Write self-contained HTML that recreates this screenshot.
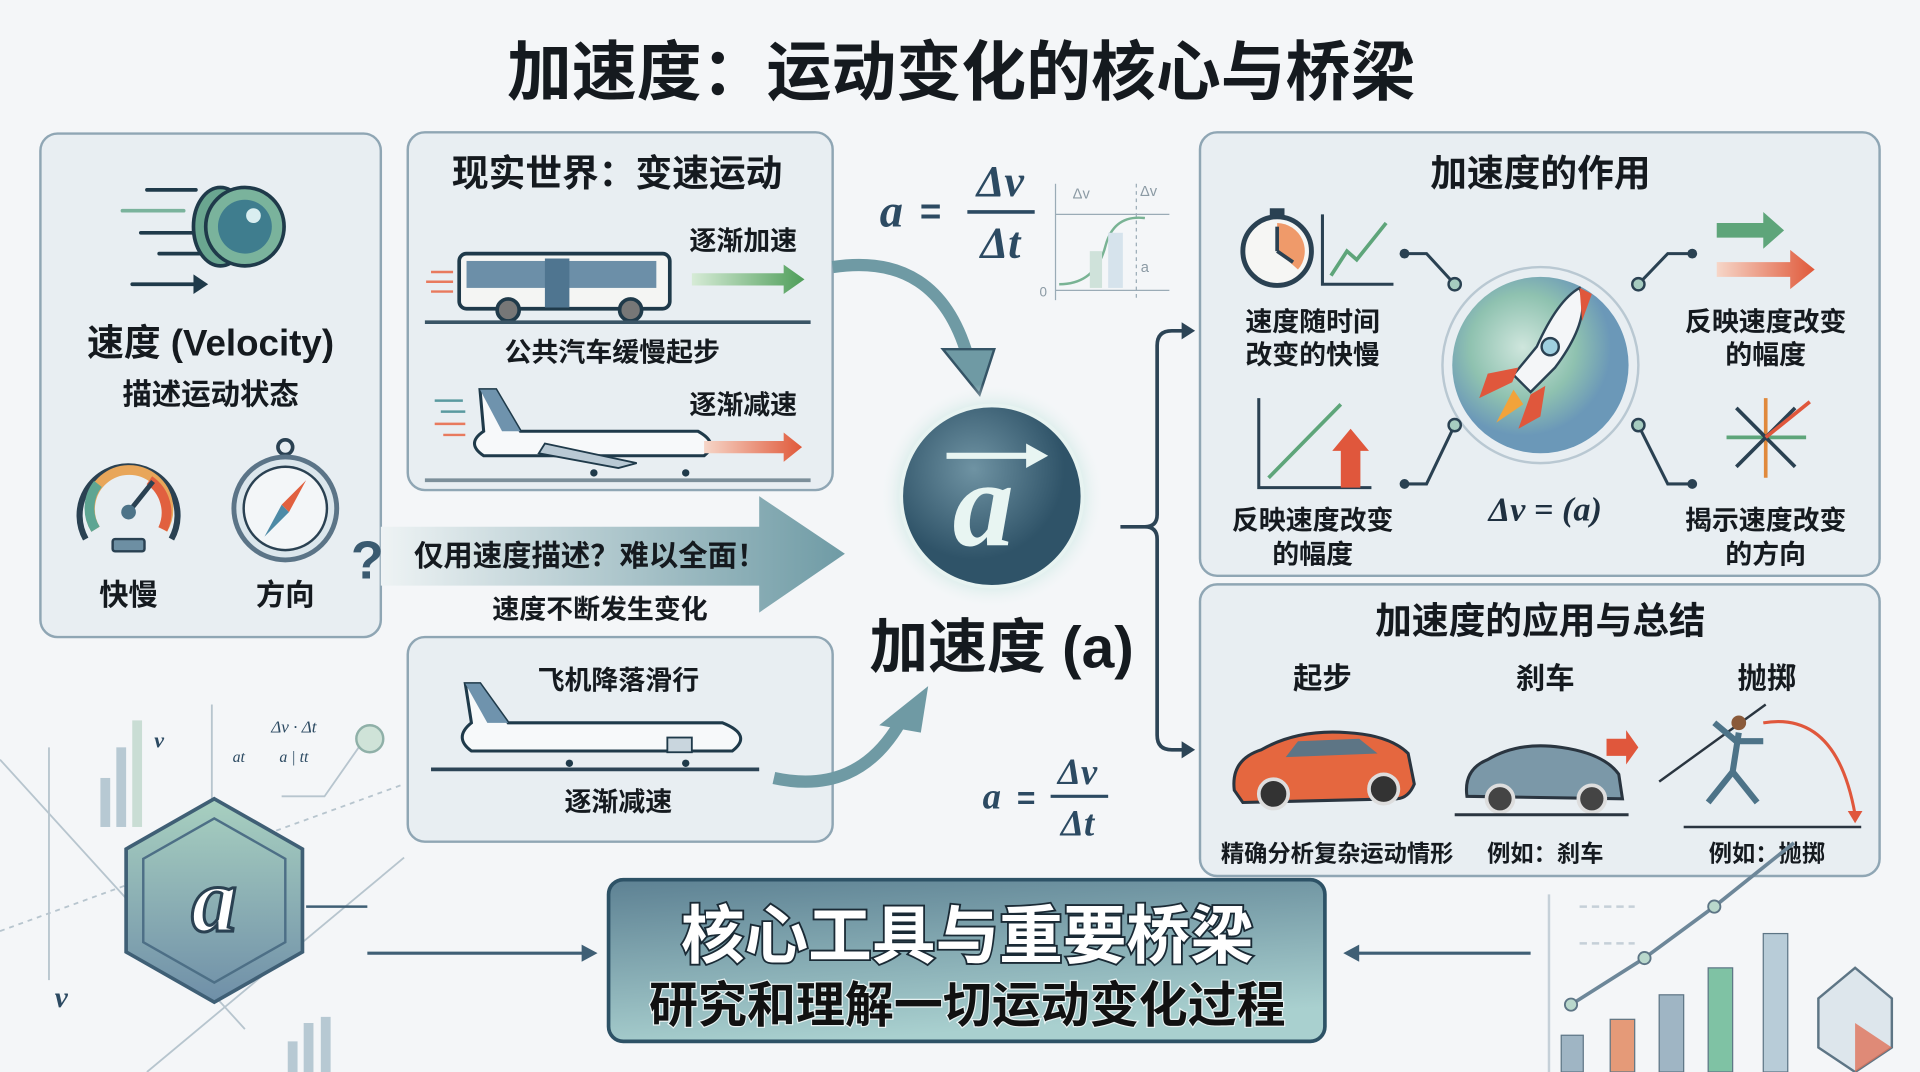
<!DOCTYPE html>
<html><head><meta charset="utf-8"><style>
html,body{margin:0;padding:0;background:#f4f6f8;}
svg{display:block}
text{font-family:"Liberation Sans","Noto Sans CJK SC",sans-serif;font-weight:bold;fill:#151a1f;text-anchor:middle}
.m{font-family:"Liberation Serif","DejaVu Serif",serif;font-style:italic;fill:#2c4a62}
</style></head><body>
<svg width="1920" height="1072" viewBox="0 0 1568 875" preserveAspectRatio="none" xmlns="http://www.w3.org/2000/svg">
<defs>
<linearGradient id="ba" x1="0" x2="1"><stop offset="0" stop-color="#eef3f4"/><stop offset="1" stop-color="#6f9ba5"/></linearGradient>
<radialGradient id="glow"><stop offset="0.7" stop-color="#bfe3dc"/><stop offset="1" stop-color="#f4f6f8" stop-opacity="0"/></radialGradient>
<radialGradient id="ca" cx="0.4" cy="0.35"><stop offset="0" stop-color="#6f93a3"/><stop offset="1" stop-color="#2f5368"/></radialGradient>
<radialGradient id="rk" cx="0.4" cy="0.4"><stop offset="0" stop-color="#cfe6dd"/><stop offset="0.6" stop-color="#8fc2b0"/><stop offset="1" stop-color="#6b98b8"/></radialGradient>
<linearGradient id="bx" x1="0" y1="0" x2="0.3" y2="1"><stop offset="0" stop-color="#5d8193"/><stop offset="1" stop-color="#a9d0cf"/></linearGradient>
<linearGradient id="ga" x1="0" x2="1"><stop offset="0" stop-color="#d6ebd6"/><stop offset="1" stop-color="#4f9e5a"/></linearGradient>
<linearGradient id="ra" x1="0" x2="1"><stop offset="0" stop-color="#f6d6c8"/><stop offset="1" stop-color="#e0593a"/></linearGradient>
<linearGradient id="hx" x1="0" y1="0" x2="0" y2="1"><stop offset="0" stop-color="#a8d0c0"/><stop offset="1" stop-color="#6f8fa8"/></linearGradient>
</defs>
<rect width="1568" height="875" fill="#f4f6f8"/>
<text x="785" y="77" font-size="53">加速度：运动变化的核心与桥梁</text>

<!-- left panel -->
<rect x="33" y="109" width="278" height="411" rx="14" fill="#e8eef2" stroke="#8fa6b4" stroke-width="2"/>
<g stroke="#1f3a4a" stroke-width="3" stroke-linecap="round">
<line x1="120" y1="155" x2="160" y2="155"/><line x1="100" y1="172" x2="150" y2="172" stroke="#7ab39c"/><line x1="115" y1="190" x2="158" y2="190"/><line x1="130" y1="207" x2="165" y2="207"/>
<line x1="108" y1="232" x2="158" y2="232"/></g>
<polygon points="158,224 170,232 158,240" fill="#1f3a4a"/>
<ellipse cx="180" cy="185" rx="22" ry="32" fill="#6aa690" stroke="#1f3a4a" stroke-width="3"/>
<circle cx="200" cy="185" r="32" fill="#7ab39c" stroke="#1f3a4a" stroke-width="3"/>
<circle cx="200" cy="185" r="22" fill="#3f7d8e"/><circle cx="207" cy="176" r="6" fill="#d9eef0"/>
<text x="172" y="290" font-size="30">速度 (Velocity)</text>
<text x="172" y="330" font-size="24">描述运动状态</text>
<path d="M70,440 A40,40 0 1,1 140,440" fill="none" stroke="#2a4152" stroke-width="5"/>
<path d="M78,432 A32,32 0 1,1 133,432" fill="none" stroke="#e8a65a" stroke-width="8"/>
<path d="M78,432 A32,32 0 0,1 80,395" fill="none" stroke="#5ea592" stroke-width="8"/>
<path d="M122,392 A32,32 0 0,1 133,432" fill="none" stroke="#e1603f" stroke-width="8"/>
<line x1="105" y1="418" x2="125" y2="393" stroke="#2a4152" stroke-width="4"/><circle cx="105" cy="418" r="6" fill="#4d7388"/>
<rect x="92" y="440" width="26" height="10" rx="2" fill="#6d8fa3" stroke="#2a4152" stroke-width="2"/>
<circle cx="233" cy="365" r="6" fill="none" stroke="#2a4152" stroke-width="3"/>
<circle cx="233" cy="415" r="42" fill="#dbe6ec" stroke="#5b7487" stroke-width="4"/>
<circle cx="233" cy="415" r="34" fill="#f3f6f8" stroke="#2a4152" stroke-width="2"/>
<polygon points="250,392 236,418 230,412" fill="#e1603f"/><polygon points="216,438 230,412 236,418" fill="#4d8aa6"/>
<text x="105" y="494" font-size="24">快慢</text><text x="233" y="494" font-size="24">方向</text>

<!-- real world panel -->
<rect x="333" y="108" width="347" height="292" rx="14" fill="#e8eef2" stroke="#8fa6b4" stroke-width="2"/>
<text x="504" y="152" font-size="30">现实世界：变速运动</text>
<text x="607" y="204" font-size="22">逐渐加速</text>
<rect x="375" y="207" width="172" height="45" rx="6" fill="#f4f5f3" stroke="#1f3a4a" stroke-width="3"/>
<rect x="381" y="213" width="155" height="22" fill="#6c8fa8"/>
<rect x="445" y="211" width="20" height="40" fill="#4f7590"/>
<circle cx="415" cy="253" r="9" fill="#777" stroke="#1f3a4a" stroke-width="3"/><circle cx="515" cy="253" r="9" fill="#777" stroke="#1f3a4a" stroke-width="3"/>
<g stroke="#e87a5e" stroke-width="2"><line x1="352" y1="222" x2="370" y2="222"/><line x1="348" y1="230" x2="370" y2="230"/><line x1="352" y1="238" x2="370" y2="238"/></g>
<polygon points="565,223 640,223 640,216 657,228 640,240 640,233 565,233" fill="url(#ga)"/>
<line x1="347" y1="263" x2="662" y2="263" stroke="#3a5566" stroke-width="3"/>
<text x="500" y="295" font-size="22">公共汽车缓慢起步</text>
<text x="607" y="338" font-size="22">逐渐减速</text>
<path d="M392,318 L405,318 L425,352 L570,352 Q588,362 575,372 L395,372 Q380,362 395,352 Z" fill="#f7f9fa" stroke="#1f3a4a" stroke-width="2.5"/>
<polygon points="392,318 405,318 425,352 410,352" fill="#6f93ad"/>
<polygon points="445,362 520,378 505,382 440,370" fill="#b9c9d4" stroke="#1f3a4a" stroke-width="1.5"/>
<circle cx="485" cy="386" r="3" fill="#1f3a4a"/><circle cx="560" cy="386" r="3" fill="#1f3a4a"/>
<g stroke="#5a9aa0" stroke-width="2"><line x1="355" y1="327" x2="378" y2="327"/><line x1="360" y1="336" x2="380" y2="336"/></g>
<g stroke="#e87a5e" stroke-width="2"><line x1="355" y1="346" x2="380" y2="346"/><line x1="362" y1="355" x2="380" y2="355"/></g>
<polygon points="575,360 640,360 640,353 655,365 640,377 640,370 575,370" fill="url(#ra)"/>
<line x1="347" y1="392" x2="662" y2="392" stroke="#7c8f9a" stroke-width="3"/>

<!-- big arrow -->
<polygon points="311,430 620,430 620,405 690,452 620,500 620,478 311,478" fill="url(#ba)"/>
<text x="300" y="472" font-size="44" fill="#3a5a70" style="fill:#3a5a70">?</text>
<text x="482" y="462" font-size="24">仅用速度描述？难以全面！</text>
<text x="490" y="505" font-size="22">速度不断发生变化</text>

<!-- landing panel -->
<rect x="333" y="520" width="347" height="167" rx="14" fill="#e8eef2" stroke="#8fa6b4" stroke-width="2"/>
<text x="505" y="563" font-size="22">飞机降落滑行</text>
<path d="M380,558 L392,558 L415,590 L590,590 Q615,600 598,613 L385,613 Q370,602 385,590 Z" fill="#f7f9fa" stroke="#1f3a4a" stroke-width="2.5"/>
<polygon points="380,558 392,558 415,590 398,590" fill="#6f93ad"/>
<rect x="545" y="602" width="20" height="12" fill="#c9d6de" stroke="#1f3a4a" stroke-width="1.5"/>
<circle cx="465" cy="623" r="3" fill="#1f3a4a"/><circle cx="560" cy="623" r="3" fill="#1f3a4a"/>
<line x1="352" y1="628" x2="620" y2="628" stroke="#2c4456" stroke-width="3"/>
<text x="505" y="662" font-size="22">逐渐减速</text>

<!-- curved arrows -->
<path d="M680,218 Q765,205 790,290" fill="none" stroke="#6f9aa4" stroke-width="10"/>
<polygon points="770,285 812,285 800,322" fill="#6f9aa4" stroke="#355466" stroke-width="2"/>
<path d="M632,635 Q700,650 735,590" fill="none" stroke="#6f9aa4" stroke-width="10"/>
<polygon points="718,592 752,598 758,560" fill="#6f9aa4"/>

<!-- top formula -->
<text x="728" y="185" font-size="38" class="m">a</text><text x="760" y="183" font-size="30" style="fill:#2c4a62">=</text>
<text x="817" y="160" font-size="36" class="m">Δv</text>
<line x1="790" y1="173" x2="845" y2="173" stroke="#2c4a62" stroke-width="3"/>
<text x="817" y="210" font-size="36" class="m">Δt</text>
<g stroke="#9aabb6" stroke-width="1" fill="none">
<line x1="862" y1="175" x2="955" y2="175"/><line x1="862" y1="237" x2="955" y2="237"/><line x1="862" y1="150" x2="862" y2="245"/><line x1="928" y1="150" x2="928" y2="245" stroke-dasharray="3,3"/>
<path d="M865,232 Q895,232 903,200 Q910,175 935,178" stroke="#79b394" stroke-width="2"/></g>
<rect x="890" y="205" width="10" height="30" fill="#cfe2da"/><rect x="905" y="190" width="12" height="45" fill="#d6e3ec"/>
<text x="883" y="162" font-size="12" style="fill:#8b9aa4;font-weight:normal">Δv</text><text x="938" y="160" font-size="12" style="fill:#8b9aa4;font-weight:normal">Δv</text>
<text x="935" y="222" font-size="12" style="fill:#8b9aa4;font-weight:normal">a</text><text x="852" y="242" font-size="11" style="fill:#8b9aa4;font-weight:normal">0</text>

<!-- center -->
<circle cx="810" cy="405" r="92" fill="url(#glow)"/>
<circle cx="810" cy="405" r="74" fill="url(#ca)" stroke="#e7f3f1" stroke-width="3"/>
<text x="803" y="445" font-size="100" class="m" style="fill:#e8f5f2">a</text>
<line x1="773" y1="372" x2="845" y2="372" stroke="#e8f5f2" stroke-width="5"/>
<polygon points="838,362 856,372 838,382" fill="#e8f5f2"/>
<text x="818" y="545" font-size="48">加速度 (a)</text>

<!-- bottom formula -->
<text x="810" y="660" font-size="30" class="m">a</text><text x="838" y="660" font-size="26" style="fill:#2c4a62">=</text>
<text x="880" y="640" font-size="30" class="m">Δv</text>
<line x1="858" y1="650" x2="905" y2="650" stroke="#2c4a62" stroke-width="2.5"/>
<text x="880" y="682" font-size="30" class="m">Δt</text>

<!-- bracket -->
<path d="M915,430 L935,430 Q945,430 945,420 L945,282 Q945,270 957,270 L968,270 M945,440 L945,600 Q945,612 957,612 L968,612 M935,430 Q945,430 945,440" fill="none" stroke="#2c4456" stroke-width="3"/>
<polygon points="965,263 976,270 965,277" fill="#2c4456"/><polygon points="965,605 976,612 965,619" fill="#2c4456"/>

<!-- right top panel -->
<rect x="980" y="108" width="555" height="362" rx="14" fill="#e8eef2" stroke="#8fa6b4" stroke-width="2"/>
<text x="1258" y="152" font-size="30">加速度的作用</text>
<circle cx="1043" cy="205" r="28" fill="#f6f6f4" stroke="#2a4152" stroke-width="4"/>
<path d="M1043,205 L1043,182 A23,23 0 0,1 1060,220 Z" fill="#ef9a6a"/>
<line x1="1043" y1="205" x2="1043" y2="185" stroke="#2a4152" stroke-width="3"/><line x1="1043" y1="205" x2="1056" y2="214" stroke="#2a4152" stroke-width="3"/>
<rect x="1037" y="170" width="12" height="6" fill="#2a4152"/>
<path d="M1080,175 L1080,232 L1138,232" fill="none" stroke="#2a4152" stroke-width="2.5"/>
<polyline points="1087,225 1100,205 1108,212 1132,182" fill="none" stroke="#5ea57a" stroke-width="3"/>
<text x="1072" y="270" font-size="22">速度随时间</text><text x="1072" y="297" font-size="22">改变的快慢</text>
<circle cx="1258" cy="298" r="80" fill="none" stroke="#b9c8d2" stroke-width="2"/>
<circle cx="1258" cy="298" r="72" fill="url(#rk)"/>
<path d="M1290,235 Q1300,260 1270,300 L1250,320 L1236,306 L1255,283 Q1272,245 1290,235 Z" fill="#f4f6f8" stroke="#2a4152" stroke-width="2"/>
<polygon points="1290,235 1300,240 1292,262" fill="#e0573c"/>
<circle cx="1266" cy="283" r="7" fill="#9fd0e0" stroke="#2a4152" stroke-width="2"/>
<polygon points="1240,300 1215,305 1208,325 1235,312" fill="#e0573c"/><polygon points="1262,315 1258,340 1240,350 1250,322" fill="#e0573c"/>
<polygon points="1236,318 1222,345 1244,330" fill="#f2a33a"/>
<g stroke="#2a4152" stroke-width="2.5" fill="none"><polyline points="1147,207 1165,207 1188,232"/><polyline points="1147,395 1165,395 1188,347"/><polyline points="1382,207 1362,207 1338,232"/><polyline points="1382,395 1362,395 1338,347"/></g>
<g fill="#2a4152"><circle cx="1147" cy="207" r="4"/><circle cx="1147" cy="395" r="4"/><circle cx="1382" cy="207" r="4"/><circle cx="1382" cy="395" r="4"/></g>
<g fill="#a6ccc0" stroke="#2a4152" stroke-width="2"><circle cx="1188" cy="232" r="5"/><circle cx="1188" cy="347" r="5"/><circle cx="1338" cy="232" r="5"/><circle cx="1338" cy="347" r="5"/></g>
<polygon points="1402,182 1440,182 1440,173 1457,188 1440,203 1440,194 1402,194" fill="#5ea57a"/>
<polygon points="1402,214 1462,214 1462,204 1482,220 1462,236 1462,226 1402,226" fill="url(#ra)"/>
<text x="1442" y="270" font-size="22">反映速度改变</text><text x="1442" y="297" font-size="22">的幅度</text>
<path d="M1028,325 L1028,398 L1120,398" fill="none" stroke="#2a4152" stroke-width="2.5"/>
<line x1="1036" y1="390" x2="1095" y2="330" stroke="#5ea57a" stroke-width="3"/>
<polygon points="1095,398 1095,368 1088,368 1103,350 1118,368 1111,368 1111,398" fill="#e0573c"/>
<text x="1072" y="432" font-size="22">反映速度改变</text><text x="1072" y="460" font-size="22">的幅度</text>
<text x="1262" y="425" font-size="28" class="m" style="fill:#1f3040">Δv = (a)</text>
<g stroke-width="3" stroke="#2a4152"><line x1="1442" y1="325" x2="1442" y2="390" stroke="#e0893c"/><line x1="1410" y1="357" x2="1475" y2="357" stroke="#5ea57a"/><line x1="1418" y1="333" x2="1466" y2="381"/><line x1="1466" y1="333" x2="1418" y2="381"/><line x1="1442" y1="357" x2="1478" y2="328" stroke="#e0573c"/></g>
<text x="1442" y="432" font-size="22">揭示速度改变</text><text x="1442" y="460" font-size="22">的方向</text>

<!-- right bottom panel -->
<rect x="980" y="477" width="555" height="238" rx="14" fill="#e8eef2" stroke="#8fa6b4" stroke-width="2"/>
<text x="1258" y="517" font-size="30">加速度的应用与总结</text>
<text x="1080" y="562" font-size="24">起步</text><text x="1262" y="562" font-size="24">刹车</text><text x="1443" y="562" font-size="24">抛掷</text>
<path d="M1008,645 Q1005,620 1030,612 Q1060,595 1100,598 Q1135,600 1150,615 L1155,640 Q1150,652 1140,652 L1015,655 Z" fill="#e5673f" stroke="#2a3540" stroke-width="2.5"/>
<circle cx="1040" cy="648" r="12" fill="#333" stroke="#ddd" stroke-width="3"/><circle cx="1130" cy="644" r="12" fill="#333" stroke="#ddd" stroke-width="3"/>
<path d="M1060,605 L1110,603 L1125,615 L1050,618 Z" fill="#5d7585"/>
<path d="M1198,650 Q1195,628 1215,620 Q1240,605 1275,610 Q1310,615 1322,632 L1325,652 Z" fill="#7b98a8" stroke="#2a3540" stroke-width="2.5"/>
<circle cx="1225" cy="652" r="11" fill="#444" stroke="#ddd" stroke-width="3"/><circle cx="1300" cy="652" r="11" fill="#444" stroke="#ddd" stroke-width="3"/>
<line x1="1188" y1="665" x2="1330" y2="665" stroke="#2a3540" stroke-width="2.5"/>
<polygon points="1312,603 1328,603 1328,596 1338,610 1328,624 1328,617 1312,617" fill="#e0573c"/>
<line x1="1355" y1="638" x2="1442" y2="575" stroke="#2a3540" stroke-width="2"/>
<path d="M1440,590 Q1500,580 1515,665" fill="none" stroke="#e0573c" stroke-width="2.5"/><polygon points="1509,662 1521,662 1515,672" fill="#e0573c"/>
<circle cx="1420" cy="590" r="6" fill="#8a5a3a"/>
<path d="M1420,598 L1415,630 L1395,655 M1415,630 L1435,655 M1418,605 L1440,605 M1418,605 L1400,590" fill="none" stroke="#4d7388" stroke-width="5"/>
<line x1="1375" y1="675" x2="1520" y2="675" stroke="#2a3540" stroke-width="2"/>
<text x="1092" y="703" font-size="19">精确分析复杂运动情形</text><text x="1262" y="703" font-size="19">例如：刹车</text><text x="1443" y="703" font-size="19">例如：抛掷</text>

<!-- bottom left decoration -->
<g stroke="#a9b9c4" stroke-width="1.5" fill="none" opacity="0.8">
<line x1="40" y1="610" x2="40" y2="800"/><line x1="173" y1="575" x2="173" y2="660"/><line x1="0" y1="760" x2="330" y2="640" stroke-dasharray="4,4"/>
<polyline points="230,650 265,650 300,600"/><line x1="0" y1="620" x2="200" y2="840"/><line x1="120" y1="875" x2="330" y2="700"/>
</g>
<g fill="#b7c9d3"><rect x="82" y="635" width="8" height="40"/><rect x="95" y="610" width="8" height="65"/><rect x="108" y="588" width="8" height="87" fill="#c9ddd4"/><rect x="235" y="850" width="8" height="25"/><rect x="248" y="835" width="8" height="40"/><rect x="262" y="830" width="8" height="45"/></g>
<text x="130" y="610" font-size="18" class="m">v</text><text x="240" y="598" font-size="14" class="m" style="font-weight:normal">Δv · Δt</text>
<text x="195" y="622" font-size="13" class="m" style="font-weight:normal">at</text><text x="240" y="622" font-size="13" class="m" style="font-weight:normal">a | tt</text>
<text x="50" y="822" font-size="24" class="m">v</text>
<circle cx="302" cy="603" r="11" fill="#cfe3d8" stroke="#8fb0a8" stroke-width="2"/>
<polygon points="175,652 247,693 247,777 175,818 103,777 103,693" fill="url(#hx)" stroke="#3f5f75" stroke-width="3"/>
<polygon points="175,668 233,701 233,769 175,802 117,769 117,701" fill="none" stroke="#4d6f86" stroke-width="2"/>
<text x="175" y="760" font-size="75" class="m" style="fill:#fff;stroke:#2a4152;stroke-width:2.5">a</text>
<line x1="250" y1="740" x2="300" y2="740" stroke="#3f5f75" stroke-width="2"/>

<!-- bottom box -->
<line x1="300" y1="778" x2="478" y2="778" stroke="#3f5f75" stroke-width="2.5"/><polygon points="475,771 488,778 475,785" fill="#3f5f75"/>
<line x1="1250" y1="778" x2="1108" y2="778" stroke="#3f5f75" stroke-width="2.5"/><polygon points="1110,771 1097,778 1110,785" fill="#3f5f75"/>
<rect x="497" y="718" width="585" height="132" rx="12" fill="url(#bx)" stroke="#2d5266" stroke-width="3"/>
<text x="790" y="782" font-size="52" style="fill:#fff;stroke:#1a2a35;stroke-width:3;paint-order:stroke">核心工具与重要桥梁</text>
<text x="790" y="834" font-size="40" style="fill:#111;stroke:#e8f2f2;stroke-width:2;paint-order:stroke">研究和理解一切运动变化过程</text>

<!-- bottom right decoration -->
<g stroke="#c5d0d8" stroke-width="2"><line x1="1290" y1="740" x2="1335" y2="740" stroke-dasharray="6,4"/><line x1="1290" y1="770" x2="1335" y2="770" stroke-dasharray="6,4"/><line x1="1265" y1="730" x2="1265" y2="875"/></g>
<rect x="1275" y="845" width="18" height="30" fill="#9fb5c4" stroke="#5d7585"/>
<rect x="1315" y="832" width="20" height="43" fill="#e59a78" stroke="#5d7585"/>
<rect x="1355" y="812" width="20" height="63" fill="#9fb5c4" stroke="#5d7585"/>
<rect x="1395" y="790" width="20" height="85" fill="#7fc2a4" stroke="#5d7585"/>
<rect x="1440" y="762" width="20" height="113" fill="#b8ccd8" stroke="#5d7585"/>
<polyline points="1283,820 1343,782 1400,740 1465,688" fill="none" stroke="#6d8799" stroke-width="3"/>
<g fill="#b9d8cc" stroke="#5d7585" stroke-width="1.5"><circle cx="1283" cy="820" r="5"/><circle cx="1343" cy="782" r="5"/><circle cx="1400" cy="740" r="5"/></g>
<polygon points="1515,790 1545,815 1545,855 1515,875 1485,855 1485,815" fill="#dde6ec" stroke="#5d7585" stroke-width="2"/>
<polygon points="1515,835 1545,855 1515,875" fill="#e0735a" opacity="0.8"/>
</svg>
</body></html>
